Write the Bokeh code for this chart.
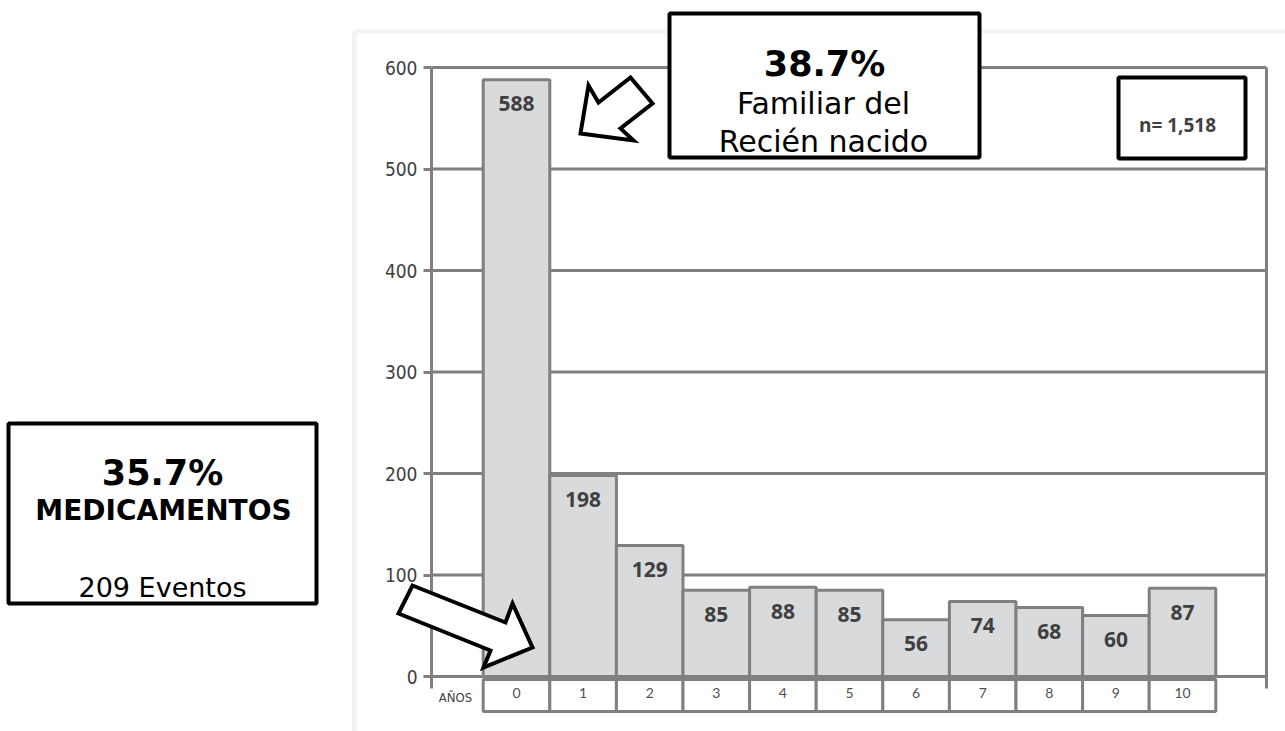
from bokeh.plotting import figure
from bokeh.models import (Range1d, LinearAxis, FixedTicker, Label)
from bokeh.embed import file_html
from bokeh.resources import INLINE

# Eventos por año de edad
years = [0, 1, 2, 3, 4, 5, 6, 7, 8, 9, 10]
events = [588, 198, 129, 85, 88, 85, 56, 74, 68, 60, 87]
y_ticks = [0, 100, 200, 300, 400, 500, 600]
axis_caption = "AÑOS"
total_label = "n= 1,518"
top_note = ["38.7%", "Familiar del", "Recién nacido"]
left_note = ["35.7%", "MEDICAMENTOS", "209 Eventos"]

W, H = 1285, 731
CX0, CW = 516.0, 66.6   # pixel centre of year 0, pixels per year
Y0, YS = 676.0, 1.015   # pixel row of zero, pixels per event


def dx(px):
    return (px - CX0) / CW


def dy(py):
    return (Y0 - py) / YS


GRID = "#808080"
BAR_FILL = "#d9dadc"
TXT = "#404040"
NARROW = "'Liberation Sans Narrow', 'DejaVu Sans Condensed', 'Roboto Condensed', sans-serif"

p = figure(width=W, height=H, x_range=Range1d(dx(0), dx(W)),
           y_range=Range1d(dy(H), dy(0)), x_axis_type=None, y_axis_type=None,
           toolbar_location=None, output_backend="svg", min_border=0,
           title=None, outline_line_color=None, background_fill_color="white",
           border_fill_color="white")

# soft edge of the chart panel
p.segment(x0=[dx(354)], y0=[dy(H)], x1=[dx(354)], y1=[dy(31)],
          line_color="#f2f2f2", line_width=5)
p.segment(x0=[dx(354)], y0=[dy(31)], x1=[dx(W)], y1=[dy(31)],
          line_color="#f3f3f3", line_width=4)

# horizontal grid and right frame edge
gx0, gx1 = dx(431), dx(1266)
p.segment(x0=[gx0] * len(y_ticks), x1=[gx1] * len(y_ticks), y0=y_ticks,
          y1=y_ticks, line_color=GRID, line_width=3)
p.segment(x0=[gx1], x1=[gx1], y0=[dy(688)], y1=[y_ticks[-1]],
          line_color=GRID, line_width=3)

# bars
p.vbar(x=years, top=events, bottom=0, width=1.0, fill_color=BAR_FILL,
       line_color=GRID, line_width=3)

# year cells under the bars
p.quad(left=[y - 0.5 for y in years], right=[y + 0.5 for y in years],
       top=[dy(679)] * len(years), bottom=[dy(711)] * len(years),
       fill_color="white", line_color=GRID, line_width=3)

# value labels inside the bars
p.text(x=years, y=events, text=[str(v) for v in events], text_align="center",
       text_baseline="middle", y_offset=24, text_font={"value": "Open Sans"},
       text_font_style="bold", text_font_size="21px", text_color=TXT)

# y axis
yax = LinearAxis(fixed_location=gx0, bounds=(dy(688), y_ticks[-1]),
                 ticker=FixedTicker(ticks=y_ticks, minor_ticks=[]),
                 axis_line_color=GRID, axis_line_width=3,
                 major_tick_line_color=GRID, major_tick_line_width=3,
                 major_tick_out=8, major_tick_in=0, minor_tick_line_color=None,
                 major_label_standoff=6, major_label_text_font=NARROW,
                 major_label_text_font_size="19px",
                 major_label_text_color=TXT)
p.add_layout(yax, "left")

# year labels
xax = LinearAxis(fixed_location=dy(679),
                 ticker=FixedTicker(ticks=years, minor_ticks=[]),
                 axis_line_color=None, major_tick_line_color=None,
                 minor_tick_line_color=None, major_tick_out=0,
                 major_label_standoff=8, major_label_text_font="Lato",
                 major_label_text_font_size="14px",
                 major_label_text_color="#505050")
p.add_layout(xax, "below")

p.add_layout(Label(x=dx(455), y=dy(697), text=axis_caption,
                   text_align="center", text_baseline="middle",
                   text_font=NARROW, text_font_size="13px", text_color=TXT))

# note boxes
p.quad(left=[dx(669), dx(1118), dx(8)], right=[dx(979), dx(1245), dx(316)],
       top=[dy(13), dy(77), dy(423)], bottom=[dy(157), dy(158), dy(603)],
       fill_color="white", line_color="black", line_width=4)

# block arrows
arrow_top = [(580, 133), (588, 85), (598, 102), (630, 77), (652, 103),
             (620, 128), (633, 140)]
arrow_low = [(412, 585), (505, 622), (512, 603), (532, 647), (483, 667),
             (490, 650), (398, 613)]
for shape in (arrow_top, arrow_low):
    p.patch(x=[dx(a) for a, _ in shape], y=[dy(b) for _, b in shape],
            fill_color="white", line_color="black", line_width=4,
            line_join="miter", level="overlay")

BOLD_FONT = "DejaVu Sans"
REG_FONT = "DejaVu Sans"


def note(text, cx, base, size, bold=False, font=REG_FONT, color="black"):
    p.add_layout(Label(x=dx(cx), y=dy(base), text=text, text_align="center",
                       text_baseline="alphabetic", text_font=font,
                       text_font_size=size,
                       text_font_style="bold" if bold else "normal",
                       text_color=color))


note(top_note[0], 824, 63, "35px", bold=True, font=BOLD_FONT)
note(top_note[1], 823, 103, "30px")
note(top_note[2], 823, 141, "30px")

note(left_note[0], 162, 472, "35px", bold=True, font=BOLD_FONT)
note(left_note[1], 163, 510, "28px", bold=True, font=BOLD_FONT)
note(left_note[2], 162, 587, "27px")

note(total_label, 1177, 124, "19px", bold=True, font="Open Sans", color=TXT)

open("out.html", "w").write(file_html(p, INLINE))
